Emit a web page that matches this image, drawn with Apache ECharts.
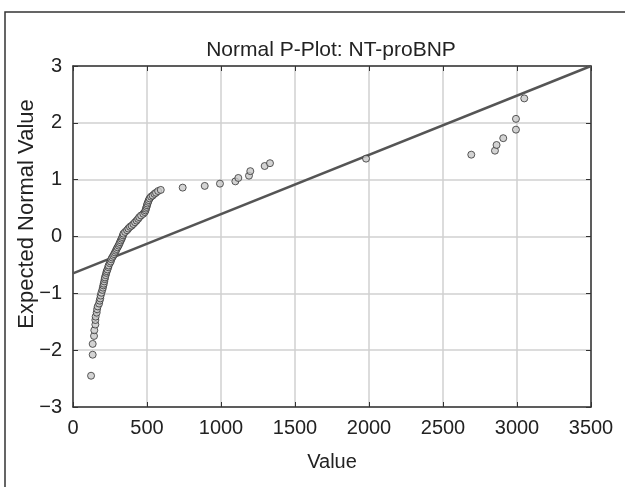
<!DOCTYPE html>
<html>
<head>
<meta charset="utf-8">
<script src="https://cdn.jsdelivr.net/npm/echarts@6/dist/echarts.min.js"></script>
<style>
html,body{margin:0;padding:0;background:#fff;}
#c{width:625px;height:487px;}
</style>
</head>
<body>
<div id="c"></div>
<script>
var values = [122,133,133,142,144,151,151,153,160,163,167,176,180,184,187,192,198,202,205,208,211,214,216,221,225,228,233,238,241,248,255,259,265,272,278,284,290,295,301,308,313,318,323,329,333,338,341,352,365,374,385,396,408,419,430,440,448,460,475,485,490,493,497,500,503,508,512,518,527,538,550,561,575,593,741,890,993,1097,1117,1189,1198,1295,1331,1980,2691,2851,2862,2907,2993,2993,3049];
var expected = [-2.45,-2.08,-1.89,-1.75,-1.65,-1.55,-1.47,-1.41,-1.34,-1.28,-1.23,-1.18,-1.13,-1.09,-1.04,-0.99,-0.94,-0.90,-0.86,-0.83,-0.79,-0.75,-0.72,-0.68,-0.64,-0.61,-0.58,-0.54,-0.51,-0.47,-0.44,-0.40,-0.37,-0.34,-0.31,-0.28,-0.25,-0.22,-0.19,-0.16,-0.13,-0.10,-0.07,-0.04,-0.01,0.02,0.05,0.08,0.11,0.14,0.17,0.19,0.22,0.25,0.28,0.31,0.34,0.37,0.40,0.43,0.46,0.49,0.52,0.55,0.58,0.61,0.64,0.67,0.70,0.72,0.75,0.77,0.80,0.82,0.86,0.89,0.93,0.97,1.03,1.07,1.15,1.24,1.29,1.37,1.44,1.51,1.61,1.73,1.88,2.07,2.43];
// Reference (fitted normal) line end points
var lineX = [0, 3500];
var lineY = [-0.65, 3.0];
var xTicks = [0,500,1000,1500,2000,2500,3000,3500];
var yTicks = [-3,-2,-1,0,1,2,3];

var pts = values.map(function(v,i){return [v, expected[i]];});
var linePts = lineX.map(function(v,i){return [v, lineY[i]];});

var FONT = 'Liberation Sans, Arial, sans-serif';
var chart = echarts.init(document.getElementById('c'), null, {renderer:'canvas'});
var axisLineStyle = {color:'#333', width:1.5};
var option = {
  animation:false,
  backgroundColor:'#fff',
  title:{text:'Normal P-Plot: NT-proBNP', left:326, top:35, textAlign:'center',
    textStyle:{fontFamily:FONT, fontSize:21, fontWeight:'normal', color:'#222'}},
  graphic:[
    {type:'rect', shape:{x:5,y:12,width:700,height:600}, style:{fill:'none', stroke:'#333', lineWidth:1.5}, silent:true, z:-1},
    {type:'text', x:27, y:214, rotation:Math.PI/2,
      style:{text:'Expected Normal Value', fontFamily:FONT, fontSize:22, fill:'#222', textAlign:'center', textVerticalAlign:'middle'}}
  ],
  grid:{left:73, right:34, top:66, bottom:80, containLabel:false},
  xAxis:[{
    type:'value', min:0, max:3500, interval:500, position:'bottom',
    name:'Value', nameLocation:'middle', nameGap:45,
    nameTextStyle:{fontFamily:FONT, fontSize:20, color:'#222'},
    axisLine:{show:true, onZero:false, lineStyle:axisLineStyle},
    axisTick:{show:true, inside:true, length:5, lineStyle:{color:'#333'}},
    axisLabel:{fontFamily:FONT, fontSize:20, color:'#222', margin:11,
      formatter:function(v){return String(v);}},
    splitLine:{show:true, lineStyle:{color:'#d0d0d0', width:1.5}}
  },{
    type:'value', min:0, max:3500, interval:500, position:'top',
    axisLine:{show:true, onZero:false, lineStyle:axisLineStyle},
    axisTick:{show:true, inside:true, length:5, lineStyle:{color:'#333'}},
    axisLabel:{show:false}, splitLine:{show:false}
  }],
  yAxis:[{
    type:'value', min:-3, max:3, interval:1, position:'left',
    axisLine:{show:true, onZero:false, lineStyle:axisLineStyle},
    axisTick:{show:true, inside:true, length:5, lineStyle:{color:'#333'}},
    axisLabel:{fontFamily:FONT, fontSize:20, color:'#222', margin:11,
      formatter:function(v){return v<0 ? '\u2212'+Math.abs(v) : String(v);}},
    splitLine:{show:true, lineStyle:{color:'#d0d0d0', width:1.5}}
  },{
    type:'value', min:-3, max:3, interval:1, position:'right',
    axisLine:{show:true, onZero:false, lineStyle:axisLineStyle},
    axisTick:{show:true, inside:true, length:5, lineStyle:{color:'#333'}},
    axisLabel:{show:false}, splitLine:{show:false}
  }],
  series:[{
    type:'line', data:linePts, symbol:'none', showSymbol:false,
    lineStyle:{color:'#555', width:2.5}, z:2
  },{
    type:'scatter', data:pts, symbol:'circle', symbolSize:7,
    itemStyle:{color:'#c8c8c8', borderColor:'#333', borderWidth:1}, z:3
  }]
};
chart.setOption(option);
</script>
</body>
</html>
